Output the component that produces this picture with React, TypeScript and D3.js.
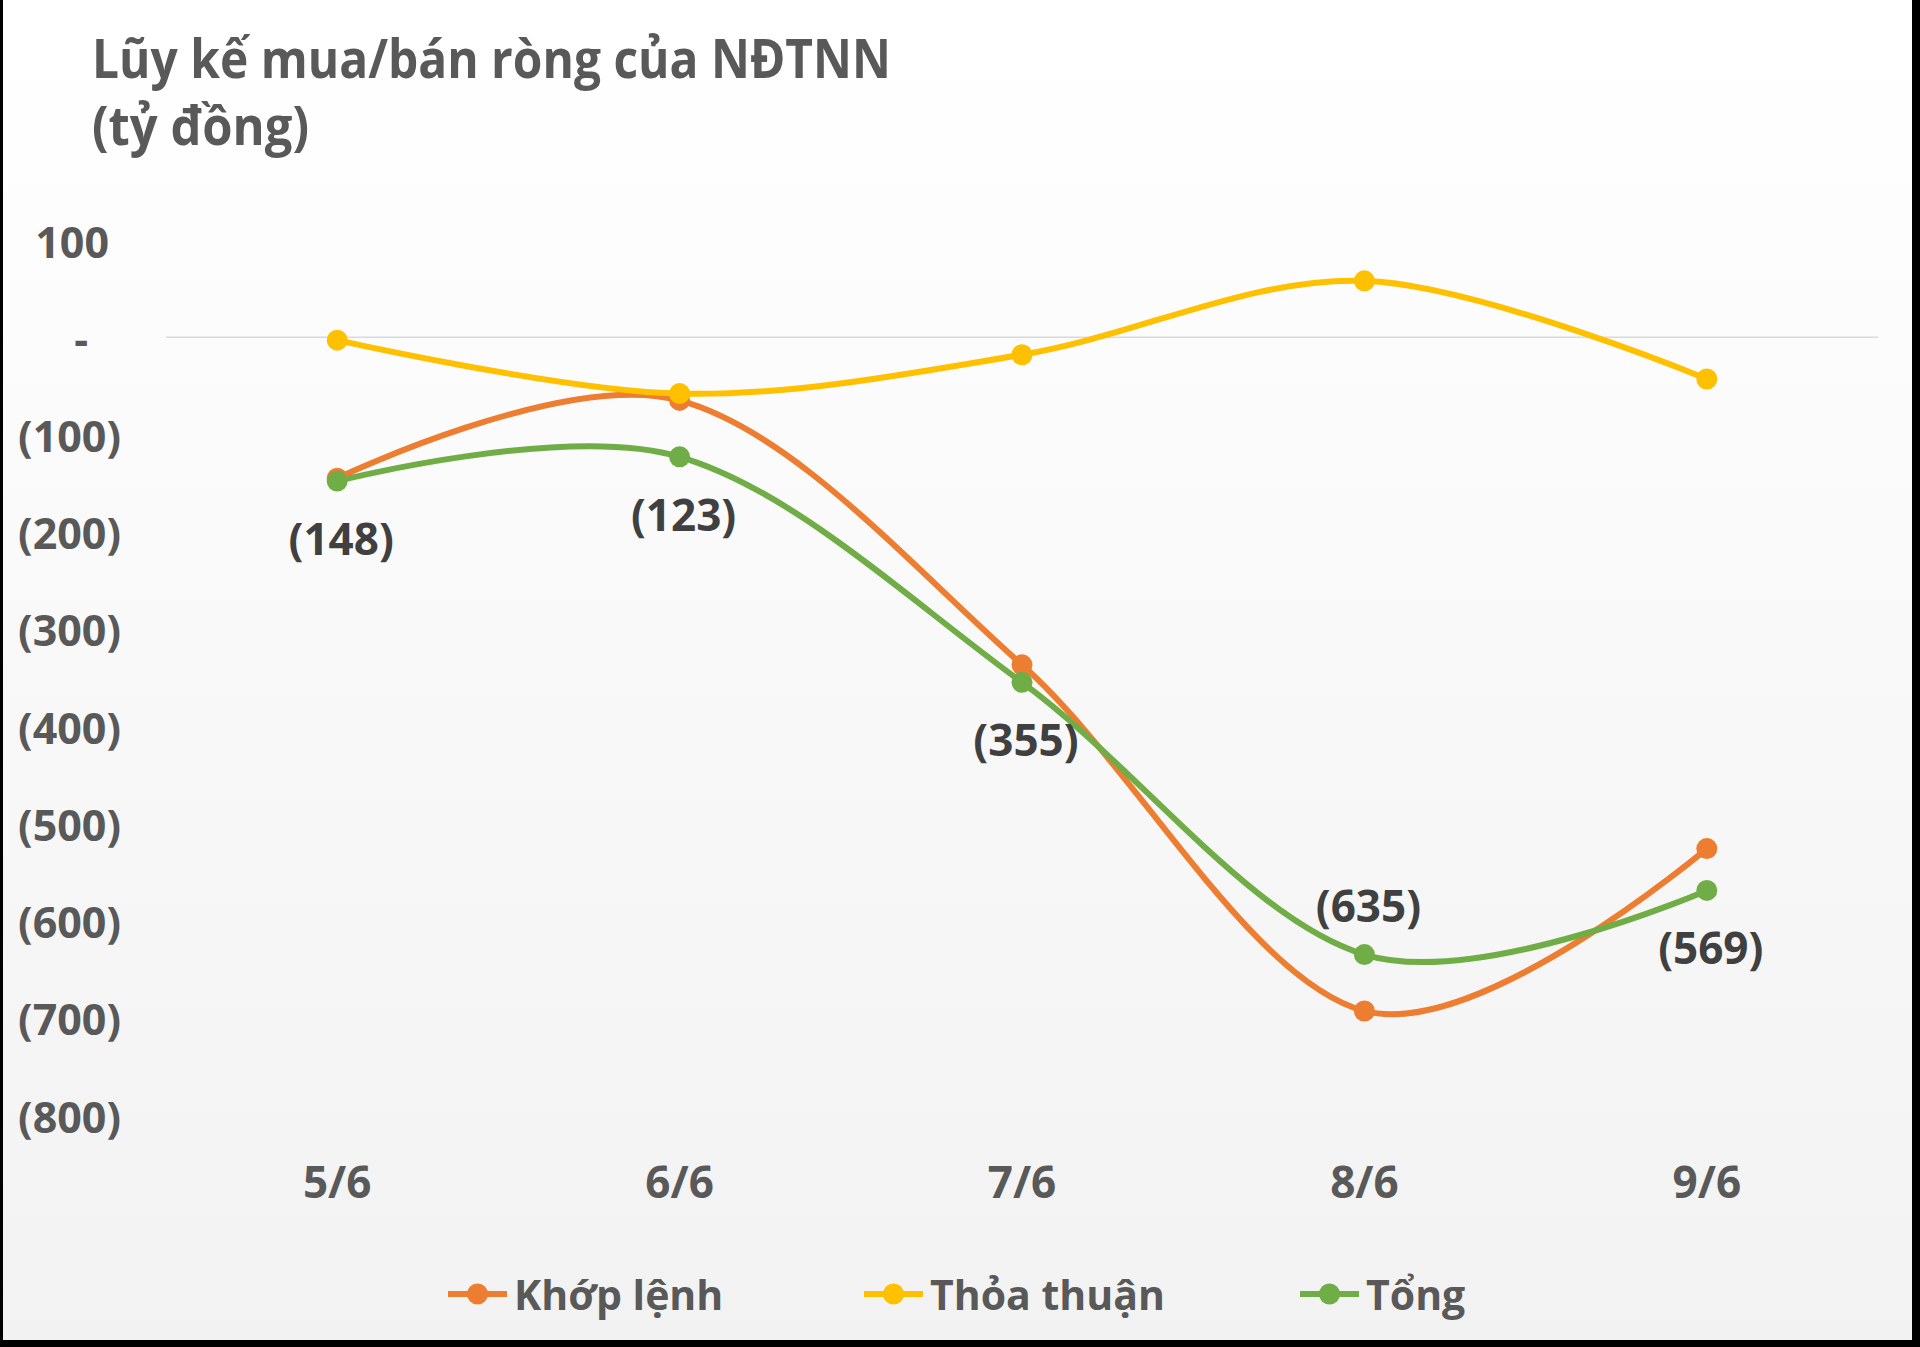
import * as d3 from 'd3';
import React from 'react';

const WIDTH = 1920;
const HEIGHT = 1347;

const dates = ['5/6', '6/6', '7/6', '8/6', '9/6'];
const khopLenh = [-145, -65, -337, -693, -526];
const thoaThuan = [-3, -58, -18, 58, -43];
const tong = [-148, -123, -355, -635, -569];
const yTicks = [100, 0, -100, -200, -300, -400, -500, -600, -700, -800];

const titleLines = ['Lũy kế mua/bán ròng của NĐTNN', '(tỷ đồng)'];

const SERIES = [
  { name: 'Khớp lệnh', values: khopLenh, color: '#ED7D31' },
  { name: 'Thỏa thuận', values: thoaThuan, color: '#FFC000' },
  { name: 'Tổng', values: tong, color: '#70AD47' },
];

const FONT = '"Open Sans", "Noto Sans", sans-serif';
const TEXT = '#595959';
const LABEL = '#404040';

// bounds of the plot (the area between the first and last gridline)
const PLOT = { left: 166, right: 1878, top: 240, bottom: 1115 };

function fmt(v: number) {
  if (v === 0) return '-';
  if (v < 0) return `(${d3.format(',')(-v)})`;
  return d3.format(',')(v);
}

export default function App() {
  const xScale = d3.scaleBand().domain(dates).range([PLOT.left, PLOT.right]).padding(0);
  const cx = (d: string) => (xScale(d) ?? 0) + xScale.bandwidth() / 2;

  const yScale = d3.scaleLinear().domain([-800, 100]).range([PLOT.bottom, PLOT.top]);

  const line = d3
    .line<number>()
    .x((_, i) => cx(dates[i]))
    .y(v => yScale(v))
    .curve(d3.curveCardinal.tension(0));

  const legendX = [448, 864, 1300];

  return (
    <svg
      width={WIDTH}
      height={HEIGHT}
      style={{ position: 'absolute', left: 0, top: 0, display: 'block' }}
      fontFamily={FONT}
    >
      <defs>
        <linearGradient id="bg" x1="0" y1="0" x2="0" y2="1">
          <stop offset="0" stopColor="#FFFFFF" />
          <stop offset="1" stopColor="#F2F2F2" />
        </linearGradient>
      </defs>
      <rect x={0} y={0} width={WIDTH} height={HEIGHT} fill="url(#bg)" />

      {/* title */}
      <text x={92} y={78} fontSize={53} fontWeight={700} fill={TEXT} textLength={799} lengthAdjust="spacingAndGlyphs">
        {titleLines[0]}
      </text>
      <text x={92} y={145} fontSize={53} fontWeight={700} fill={TEXT} textLength={217} lengthAdjust="spacingAndGlyphs">
        {titleLines[1]}
      </text>

      {/* zero gridline */}
      <line x1={PLOT.left} x2={PLOT.right} y1={yScale(0)} y2={yScale(0)} stroke="#D9D9D9" strokeWidth={1.5} />

      {/* y ticks */}
      {yTicks.map(t => (
        <text
          key={t}
          x={121}
          dx={t > 0 ? -12 : t === 0 ? -33 : 0}
          y={yScale(t) + 1}
          textAnchor="end"
          dominantBaseline="central"
          fontSize={43}
          fontWeight={700}
          fill={TEXT}
        >
          {fmt(t)}
        </text>
      ))}

      {/* x labels */}
      {dates.map(d => (
        <text
          key={d}
          x={cx(d)}
          y={1181}
          textAnchor="middle"
          dominantBaseline="central"
          fontSize={44}
          fontWeight={700}
          fill={TEXT}
        >
          {d}
        </text>
      ))}

      {/* lines */}
      {SERIES.map(s => (
        <path key={s.name} d={line(s.values) ?? ''} fill="none" stroke={s.color} strokeWidth={6} strokeLinecap="round" />
      ))}
      {SERIES.map(s => (
        <g key={s.name + '-m'}>
          {s.values.map((v, i) => (
            <circle key={i} cx={cx(dates[i])} cy={yScale(v)} r={10.5} fill={s.color} />
          ))}
        </g>
      ))}

      {/* data labels on Tổng: above the point when Khớp lệnh sits below it */}
      {tong.map((v, i) => {
        const above = khopLenh[i] < v;
        return (
          <text
            key={i}
            x={cx(dates[i]) + 4}
            y={yScale(v) + (above ? -50 : 57)}
            textAnchor="middle"
            dominantBaseline="central"
            fontSize={44}
            fontWeight={700}
            fill={LABEL}
          >
            {fmt(v)}
          </text>
        );
      })}

      {/* legend */}
      {SERIES.map((s, i) => (
        <g key={s.name + '-l'} transform={`translate(${legendX[i]},1294)`}>
          <line x1={0} x2={59} y1={0} y2={0} stroke={s.color} strokeWidth={6} />
          <circle cx={29.5} cy={0} r={10.5} fill={s.color} />
          <text x={66} y={0} dominantBaseline="central" fontSize={41} fontWeight={700} fill={TEXT}>
            {s.name}
          </text>
        </g>
      ))}

      {/* frame edges */}
      <rect x={0} y={0} width={3} height={HEIGHT} fill="#000" />
      <rect x={1912} y={0} width={8} height={HEIGHT} fill="#000" />
      <rect x={0} y={1340} width={WIDTH} height={7} fill="#000" />
    </svg>
  );
}
